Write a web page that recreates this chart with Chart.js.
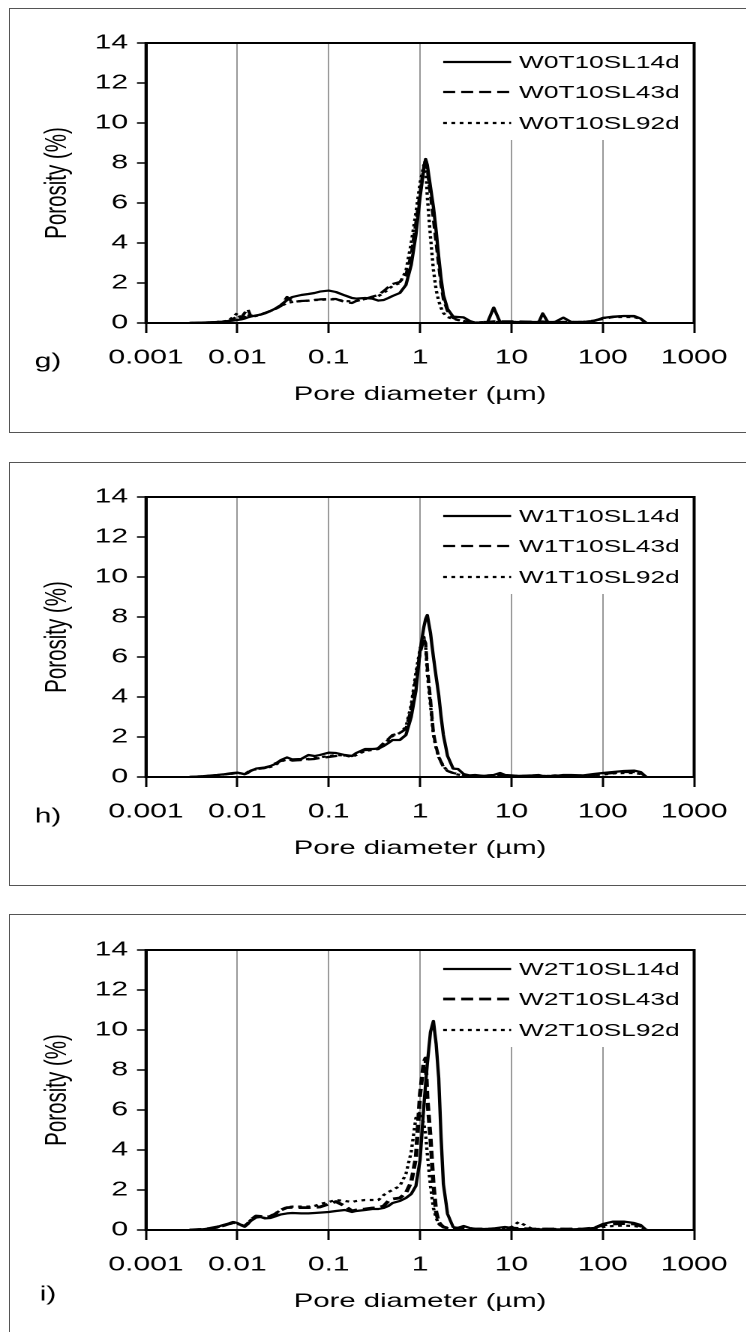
<!DOCTYPE html>
<html>
<head>
<meta charset="utf-8">
<script src="https://cdn.jsdelivr.net/npm/chart.js@4.4.1/dist/chart.umd.min.js"></script>
<style>
  html, body { margin: 0; padding: 0; background: #fff; width: 746px; height: 1332px; overflow: hidden; }
  .box { position: absolute; left: 9px; width: 760px; border: 1px solid #555; box-sizing: border-box; }
  .wrap { position: absolute; left: 0; width: 498px; height: 425px; transform: scaleX(1.5); transform-origin: 0 0; }
  canvas { display: block; }
</style>
</head>
<body>
<div class="box" style="top:8px;height:425px"></div>
<div class="box" style="top:462px;height:424px"></div>
<div class="box" style="top:914px;height:440px"></div>
<div class="wrap" style="top:9px"><canvas id="chartG" width="498" height="425"></canvas></div>
<div class="wrap" style="top:463px"><canvas id="chartH" width="498" height="425"></canvas></div>
<div class="wrap" style="top:916px"><canvas id="chartI" width="498" height="425"></canvas></div>
<script>
// ---------------- data ----------------
const diameters = [
  0.003, 0.004, 0.005, 0.006, 0.007, 0.008, 0.009, 0.01, 0.011, 0.012,
  0.013, 0.014, 0.016, 0.018, 0.02, 0.023, 0.026, 0.03, 0.035, 0.04,
  0.05, 0.06, 0.07, 0.08, 0.1, 0.12, 0.15, 0.18, 0.2, 0.25,
  0.3, 0.35, 0.4, 0.45, 0.5, 0.6, 0.7, 0.8, 0.9, 1.0,
  1.1, 1.15, 1.2, 1.3, 1.4, 1.5, 1.6, 1.7, 1.8, 2.0,
  2.3, 2.6, 3.0, 3.5, 4.0, 5.0, 5.5, 6.4, 7.5, 8.5,
  10, 12, 17, 20, 22, 25, 30, 37, 45, 60,
  80, 100, 130, 170, 220, 260, 300
];

const xTickValues = [0.001, 0.01, 0.1, 1, 10, 100, 1000];
const xTickLabels = ['0.001', '0.01', '0.1', '1', '10', '100', '1000'];
const yTickValues = [0, 2, 4, 6, 8, 10, 12, 14];

// panel g
const namesG = ['W0T10SL14d', 'W0T10SL43d', 'W0T10SL92d'];
const g14 = [
  0, 0.02, 0.03, 0.05, 0.07, 0.1, 0.12, 0.15, 0.18, 0.22,
  0.28, 0.32, 0.38, 0.42, 0.5, 0.6, 0.72, 0.9, 1.15, 1.3,
  1.4, 1.45, 1.5, 1.57, 1.62, 1.55, 1.38, 1.25, 1.22, 1.25,
  1.22, 1.12, 1.15, 1.25, 1.35, 1.5, 1.9, 2.9, 4.4, 6.3,
  7.7, 8.2, 7.9, 6.8, 5.8, 4.6, 3.3, 2.2, 1.4, 0.7,
  0.32, 0.3, 0.28, 0.1, 0.02, 0.03, 0.05, 0.77, 0.05, 0.05,
  0.05, 0.05, 0.05, 0.05, 0.48, 0.05, 0.05, 0.27, 0.05, 0.05,
  0.1, 0.25, 0.32, 0.35, 0.35, 0.22, 0
];
const g43 = [
  0, 0.02, 0.03, 0.05, 0.08, 0.1, 0.2, 0.35, 0.25, 0.5,
  0.7, 0.35, 0.4, 0.42, 0.48, 0.6, 0.7, 0.85, 1.3, 1.05,
  1.1, 1.12, 1.15, 1.18, 1.2, 1.2, 1.05, 1.0, 1.1, 1.2,
  1.32, 1.4, 1.6, 1.8, 1.95, 2.05, 2.4, 3.4, 5.0, 6.5,
  7.8, 8.2, 7.7, 6.4, 5.2, 4.0, 2.9, 1.9, 1.2, 0.6,
  0.25, 0.15, 0.1, 0.05, 0.02, 0.05, 0.05, 0.08, 0.08, 0.08,
  0.08, 0.08, 0.06, 0.06, 0.08, 0.05, 0.05, 0.05, 0.05, 0.05,
  0.12, 0.2, 0.3, 0.35, 0.33, 0.2, 0
];
const g92 = [
  0, 0.02, 0.03, 0.05, 0.08, 0.12, 0.3, 0.5, 0.2, 0.3,
  0.45, 0.3, 0.35, 0.42, 0.5, 0.6, 0.7, 0.85, 1.0, 1.05,
  1.1, 1.12, 1.15, 1.15, 1.18, 1.18, 1.1, 1.08, 1.1, 1.2,
  1.28, 1.35, 1.5, 1.7, 1.85, 2.0, 2.6, 4.0, 5.5, 7.0,
  7.9, 8.0, 6.3, 4.3, 2.65, 1.65, 1.1, 0.75, 0.5, 0.3,
  0.2, 0.15, 0.1, 0.05, 0.02, 0.05, 0.05, 0.05, 0.05, 0.05,
  0.05, 0.05, 0.05, 0.05, 0.05, 0.05, 0.05, 0.05, 0.05, 0.05,
  0.1, 0.25, 0.3, 0.3, 0.3, 0.2, 0
];

// panel h
const namesH = ['W1T10SL14d', 'W1T10SL43d', 'W1T10SL92d'];
const h14 = [
  0, 0.03, 0.07, 0.1, 0.13, 0.17, 0.2, 0.22, 0.18, 0.14,
  0.2, 0.3, 0.42, 0.45, 0.48, 0.55, 0.65, 0.85, 0.98, 0.88,
  0.9, 1.1, 1.05, 1.1, 1.22, 1.2, 1.1, 1.05, 1.2, 1.4,
  1.4, 1.42, 1.55, 1.7, 1.85, 1.85, 2.1, 3.0, 4.3, 6.3,
  7.5, 7.9, 8.1, 7.2, 6.0, 5.0, 4.1, 3.0, 2.1, 1.05,
  0.42, 0.4, 0.15, 0.08, 0.1, 0.05, 0.08, 0.1, 0.2, 0.1,
  0.08, 0.05, 0.08, 0.1, 0.05, 0.05, 0.05, 0.1, 0.1, 0.08,
  0.15, 0.2, 0.25, 0.3, 0.32, 0.25, 0
];
const h43 = [
  0, 0.03, 0.06, 0.09, 0.12, 0.15, 0.18, 0.2, 0.17, 0.14,
  0.22, 0.32, 0.4, 0.42, 0.45, 0.55, 0.68, 0.8, 0.9, 0.82,
  0.85, 0.88, 0.9, 0.95, 1.0, 1.05, 1.08, 1.05, 1.15, 1.35,
  1.35, 1.45, 1.7, 1.9, 2.1, 2.2, 2.4, 3.4, 5.0, 6.2,
  6.9, 6.7, 5.5, 3.85, 2.2, 1.5, 1.0, 0.75, 0.5, 0.3,
  0.2, 0.15, 0.1, 0.05, 0.05, 0.05, 0.05, 0.08, 0.1, 0.08,
  0.05, 0.05, 0.05, 0.05, 0.05, 0.05, 0.08, 0.05, 0.05, 0.08,
  0.1, 0.15, 0.2, 0.25, 0.25, 0.2, 0
];
const h92 = [
  0, 0.03, 0.06, 0.09, 0.12, 0.15, 0.17, 0.2, 0.18, 0.15,
  0.25, 0.35, 0.38, 0.42, 0.45, 0.5, 0.6, 0.78, 0.88, 0.85,
  0.85, 0.9, 0.95, 0.98, 1.05, 1.1, 1.08, 1.0, 1.1, 1.3,
  1.35, 1.4, 1.65, 1.85, 2.05, 2.2, 2.5, 3.6, 5.2, 6.4,
  7.0, 6.6, 5.2, 3.6, 2.1, 1.45, 1.0, 0.75, 0.55, 0.3,
  0.2, 0.12, 0.08, 0.05, 0.05, 0.05, 0.05, 0.05, 0.08, 0.05,
  0.05, 0.05, 0.05, 0.05, 0.05, 0.05, 0.05, 0.05, 0.05, 0.05,
  0.1, 0.12, 0.18, 0.2, 0.2, 0.15, 0
];

// panel i
const namesI = ['W2T10SL14d', 'W2T10SL43d', 'W2T10SL92d'];
const i14 = [
  0, 0.03, 0.08, 0.15, 0.25, 0.32, 0.4, 0.35, 0.25, 0.18,
  0.3, 0.45, 0.62, 0.65, 0.58, 0.6, 0.68, 0.78, 0.83, 0.85,
  0.83, 0.83, 0.85, 0.87, 0.9, 0.95, 1.0, 0.9, 0.95, 1.0,
  1.05, 1.05, 1.1, 1.2, 1.35, 1.45, 1.6, 1.8, 2.2, 3.5,
  6.2, 7.3, 8.3, 9.9, 10.45, 9.3, 7.6, 4.6, 2.3, 0.8,
  0.15, 0.1, 0.2, 0.1, 0.05, 0.05, 0.05, 0.08, 0.12, 0.15,
  0.1, 0.05, 0.03, 0.03, 0.03, 0.03, 0.03, 0.03, 0.03, 0.05,
  0.1, 0.3, 0.42, 0.42, 0.35, 0.25, 0
];
const i43 = [
  0, 0.03, 0.08, 0.15, 0.22, 0.3, 0.38, 0.33, 0.25, 0.18,
  0.32, 0.5, 0.7, 0.68, 0.62, 0.68, 0.8, 1.0, 1.12, 1.13,
  1.12, 1.12, 1.13, 1.15, 1.3, 1.42, 1.2, 0.95, 1.0, 1.05,
  1.1, 1.12, 1.2, 1.45, 1.55, 1.6, 1.85, 2.4, 3.6, 6.8,
  8.4, 8.6, 6.6, 4.6, 2.3, 0.9, 0.4, 0.25, 0.15, 0.1,
  0.08, 0.1, 0.15, 0.08, 0.05, 0.05, 0.05, 0.05, 0.08, 0.1,
  0.1, 0.08, 0.05, 0.05, 0.05, 0.05, 0.05, 0.05, 0.05, 0.05,
  0.1, 0.25, 0.3, 0.32, 0.3, 0.2, 0
];
const i92 = [
  0, 0.03, 0.07, 0.12, 0.2, 0.28, 0.35, 0.3, 0.25, 0.2,
  0.35, 0.5, 0.67, 0.65, 0.6, 0.7, 0.83, 1.0, 1.15, 1.17,
  1.17, 1.17, 1.2, 1.3, 1.4, 1.5, 1.45, 1.4, 1.45, 1.5,
  1.5, 1.5, 1.75, 1.9, 2.0, 2.2, 2.8, 3.9, 5.6, 5.9,
  5.3, 4.8, 3.8, 2.2, 1.1, 0.6, 0.3, 0.2, 0.15, 0.1,
  0.05, 0.05, 0.1, 0.05, 0.05, 0.05, 0.05, 0.05, 0.05, 0.08,
  0.15, 0.4, 0.05, 0.05, 0.05, 0.05, 0.05, 0.05, 0.05, 0.05,
  0.08, 0.15, 0.2, 0.22, 0.2, 0.15, 0
];

// ---------------- drawing ----------------
Chart.defaults.font.family = "'Liberation Sans', Arial, sans-serif";
Chart.defaults.color = '#000';

const insideLegend = {
  id: 'insideLegend',
  beforeDatasetsDraw(chart) {
    const ctx = chart.ctx, a = chart.chartArea;
    ctx.save();
    ctx.fillStyle = '#fff';
    ctx.fillRect(a.right - 174.7, a.top + 1, 174.7 - 1, 96);
    const rows = [19, 49, 80];
    chart.data.datasets.forEach((ds, k) => {
      const y = a.top + rows[k];
      ctx.beginPath();
      ctx.setLineDash(ds.borderDash || []);
      ctx.lineWidth = ds.borderWidth;
      ctx.strokeStyle = '#000';
      ctx.moveTo(a.right - 167.3, y);
      ctx.lineTo(a.right - 122, y);
      ctx.stroke();
      ctx.setLineDash([]);
      ctx.fillStyle = '#000';
      ctx.font = "17.5px 'Liberation Sans', Arial, sans-serif";
      ctx.textBaseline = 'middle';
      ctx.textAlign = 'left';
      ctx.fillText(ds.label, a.right - 116.7, y + 1);
    });
    ctx.restore();
  }
};

const frame = {
  id: 'frame',
  afterDatasetsDraw(chart) {
    const ctx = chart.ctx, a = chart.chartArea;
    ctx.save();
    ctx.strokeStyle = '#000';
    ctx.lineWidth = 2;
    ctx.setLineDash([]);
    ctx.strokeRect(a.left, a.top, a.right - a.left, a.bottom - a.top);
    ctx.restore();
  }
};

const panelTag = {
  id: 'panelTag',
  afterDraw(chart, args, opts) {
    const ctx = chart.ctx, a = chart.chartArea;
    ctx.save();
    ctx.fillStyle = '#000';
    ctx.font = "20px 'Liberation Sans', Arial, sans-serif";
    ctx.textAlign = 'center';
    ctx.textBaseline = 'middle';
    ctx.fillText(opts.text, 32, a.bottom + opts.dy);
    ctx.restore();
  }
};

function makeChart(canvasId, tag, tagDy, names, series, dashWidth) {
  const dashes = [[], [8, 4], [2.5, 3]];
  const widths = [2.2, dashWidth, 2.2];
  const datasets = series.map((s, k) => ({
    label: names[k],
    data: diameters.map((d, i) => ({ x: d, y: s[i] })),
    borderColor: '#000',
    backgroundColor: '#000',
    borderWidth: widths[k],
    borderDash: dashes[k],
    pointRadius: 0,
    fill: false,
    tension: 0,
    borderJoinStyle: 'round'
  }));
  return new Chart(document.getElementById(canvasId), {
    type: 'line',
    data: { datasets },
    options: {
      responsive: false,
      animation: false,
      devicePixelRatio: 2,
      layout: { padding: { top: 34, right: 24.67, bottom: 0, left: 0 } },
      plugins: {
        legend: { display: false },
        tooltip: { enabled: false },
        panelTag: { text: tag, dy: tagDy }
      },
      scales: {
        x: {
          type: 'logarithmic',
          min: 0.001,
          max: 1000,
          afterBuildTicks: s => { s.ticks = xTickValues.map(v => ({ value: v })); },
          afterFit: s => { s.height = 111; },
          ticks: {
            callback: (v, i) => xTickLabels[i],
            padding: 13,
            maxRotation: 0,
            autoSkip: false,
            font: { size: 20 },
            color: '#000'
          },
          grid: {
            color: c => (c.index === 0 || c.index === xTickValues.length - 1) ? 'rgba(0,0,0,0)' : '#808080',
            lineWidth: 0.8,
            tickLength: 10,
            tickColor: '#000',
            tickWidth: 1.5
          },
          border: { color: '#000', width: 2 },
          title: {
            display: true,
            text: 'Pore diameter (µm)',
            font: { size: 19.5 },
            color: '#000',
            padding: { top: 0, bottom: 27.6 }
          }
        },
        y: {
          min: 0,
          max: 14,
          afterBuildTicks: s => { s.ticks = yTickValues.map(v => ({ value: v })); },
          afterFit: s => { s.width = 97.33; },
          ticks: { padding: 6, font: { size: 20 }, color: '#000' },
          grid: { drawOnChartArea: false, tickLength: 6, tickColor: '#000', tickWidth: 1.5 },
          border: { color: '#000', width: 2 },
          title: {
            display: true,
            text: 'Porosity (%)',
            font: { size: 20.5 },
            color: '#000',
            padding: { top: 26, bottom: 0 }
          }
        }
      }
    },
    plugins: [insideLegend, frame, panelTag]
  });
}

makeChart('chartG', 'g)', 39, namesG, [g14, g43, g92], 2.2);
makeChart('chartH', 'h)', 40, namesH, [h14, h43, h92], 2.2);
makeChart('chartI', 'i)', 65, namesI, [i14, i43, i92], 2.8);
</script>
</body>
</html>
